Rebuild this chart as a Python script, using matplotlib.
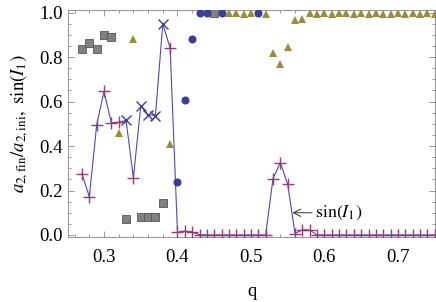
# -*- coding: utf-8 -*-

import matplotlib
matplotlib.use("Agg")
import matplotlib.pyplot as plt
from matplotlib.ticker import MultipleLocator

plt.rcParams["font.family"] = ["Liberation Serif", "DejaVu Serif"]
plt.rcParams["mathtext.fontset"] = "stix"

# sin(I1) line, one point per q
q_line = [0.27, 0.28, 0.29, 0.30, 0.31, 0.32, 0.33, 0.34, 0.35, 0.36,
          0.37, 0.38, 0.39, 0.40, 0.41, 0.42, 0.43, 0.44, 0.45, 0.46,
          0.47, 0.48, 0.49, 0.50, 0.51, 0.52, 0.53, 0.54, 0.55, 0.56,
          0.57, 0.58, 0.59, 0.60, 0.61, 0.62, 0.63, 0.64, 0.65, 0.66,
          0.67, 0.68, 0.69, 0.70, 0.71, 0.72, 0.73, 0.74, 0.75]
sin_i1 = [0.276, 0.171, 0.494, 0.646, 0.504, 0.507, 0.516, 0.258, 0.579, 0.541,
          0.537, 0.949, 0.840, 0.012, 0.018, 0.012, 0.002, 0.0, 0.0, 0.0,
          0.0, 0.0, 0.0, 0.0, 0.0, 0.0, 0.254, 0.325, 0.228, 0.006,
          0.024, 0.022, 0.0, 0.0, 0.0, 0.0, 0.0, 0.0, 0.0, 0.0,
          0.0, 0.0, 0.0, 0.0, 0.0, 0.0, 0.0, 0.0, 0.0]
cross_q = [0.33, 0.35, 0.36, 0.37, 0.38]  # these get "x" instead of "+"

# a2,fin/a2,ini, three outcome groups
sq_q = [0.27, 0.28, 0.29, 0.30, 0.31, 0.33, 0.35, 0.36, 0.37, 0.38, 0.45]
sq_a = [0.837, 0.864, 0.837, 0.899, 0.890, 0.072, 0.079, 0.082, 0.082, 0.146, 1.0]

ci_q = [0.40, 0.41, 0.42, 0.43, 0.44, 0.46, 0.51]
ci_a = [0.238, 0.605, 0.880, 1.0, 1.0, 1.0, 1.0]

tr_q = [0.32, 0.34, 0.39, 0.47, 0.48, 0.49, 0.50, 0.52, 0.53, 0.54,
        0.55, 0.56, 0.57, 0.58, 0.59, 0.60, 0.61, 0.62, 0.63, 0.64,
        0.65, 0.66, 0.67, 0.68, 0.69, 0.70, 0.71, 0.72, 0.73, 0.74, 0.75]
tr_a = [0.460, 0.880, 0.407, 0.997, 0.997, 0.995, 0.997, 0.995, 0.820, 0.770,
        0.847, 0.966, 0.971, 0.997, 0.995, 0.997, 0.993, 0.997, 0.997, 0.993,
        0.997, 0.995, 0.997, 0.995, 0.995, 0.997, 0.995, 0.997, 0.995, 0.997, 0.995]

opline = {"color": "#4a4ac0", "linewidth": 0.8, "zorder": 2}
opplus = {"marker": "+", "color": "#993d71", "markersize": 9, "markeredgewidth": 1.0,
          "linestyle": "none", "zorder": 3}
opcross = {"marker": "x", "color": "#3d3d99", "markersize": 7.5, "markeredgewidth": 1.0,
           "linestyle": "none", "zorder": 3}
frame = "#999999"

fig = plt.figure(figsize=(4.36, 3.02), dpi=100)
ax = fig.add_axes([68 / 436, 65 / 302, 367 / 436, 227 / 302])

ax.plot(q_line, sin_i1, **opline)
plus = [(q, s) for q, s in zip(q_line, sin_i1) if q not in cross_q]
cross = [(q, s) for q, s in zip(q_line, sin_i1) if q in cross_q]
ax.plot([p[0] for p in plus], [p[1] for p in plus], **opplus)
ax.plot([p[0] for p in cross], [p[1] for p in cross], **opcross)

ax.plot(sq_q, sq_a, "s", color="#808080", markeredgecolor="#555555", markersize=5.6,
        markeredgewidth=0.6, zorder=4)
ax.plot(ci_q, ci_a, "o", color="#3d3d99", markeredgewidth=0, markersize=5.8, zorder=4)
ax.plot(tr_q, tr_a, "^", color="#998c3d", markeredgewidth=0, markersize=5.8, zorder=4)

ax.annotate(r"$\mathrm{sin}(I_1)$", xy=(0.5565, 0.10), xytext=(0.587, 0.10),
            fontsize=13, va="center", ha="left",
            arrowprops={"arrowstyle": "->", "color": "#333333", "lw": 0.7,
                        "shrinkA": 0, "shrinkB": 0})

ax.set_xlim(0.251, 0.7505)
ax.set_ylim(-0.009, 1.0117)
ax.xaxis.set_major_locator(MultipleLocator(0.1))
ax.xaxis.set_minor_locator(MultipleLocator(0.02))
ax.yaxis.set_major_locator(MultipleLocator(0.2))
ax.yaxis.set_minor_locator(MultipleLocator(0.05))
ax.xaxis.set_major_formatter(plt.FormatStrFormatter("%.1f"))
ax.yaxis.set_major_formatter(plt.FormatStrFormatter("%.1f"))
ax.tick_params(which="both", direction="in", top=True, right=True, color=frame,
               labelsize=13.5, width=0.7)
ax.tick_params(axis="x", pad=9)
ax.tick_params(axis="y", pad=4)
ax.tick_params(which="major", length=4.5)
ax.tick_params(which="minor", length=2.5)
for s in ax.spines.values():
    s.set_color(frame)
    s.set_linewidth(0.8)

ax.set_xlabel("q", fontsize=13.5, labelpad=12)
ax.set_ylabel(r"$a_{2,\mathrm{fin}}/a_{2,\mathrm{ini}},\ \mathrm{sin}(I_1)$", fontsize=13.5,
              labelpad=6)

fig.savefig("out.png", dpi=100)
